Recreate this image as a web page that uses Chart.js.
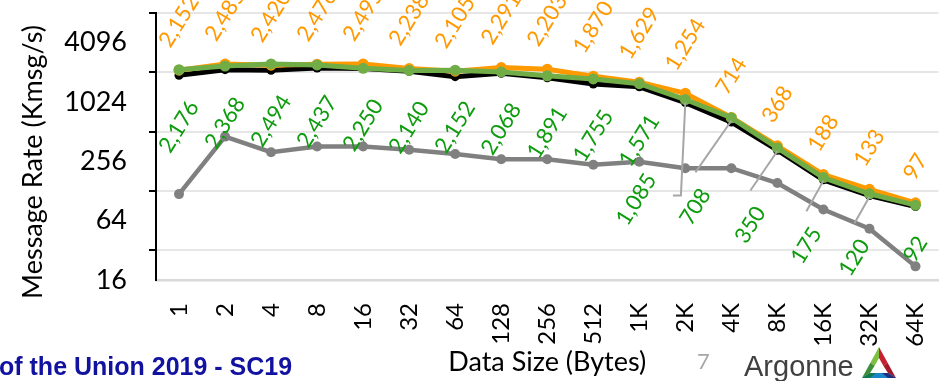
<!DOCTYPE html>
<html>
<head>
<meta charset="utf-8">
<script src="https://cdn.jsdelivr.net/npm/chart.js@4.4.1/dist/chart.umd.min.js"></script>
<style>
  html, body { margin: 0; padding: 0; background: #ffffff; }
  #wrap { position: relative; width: 944px; height: 381px; overflow: hidden; }
  #chart { position: absolute; left: 0; top: 0; }
  .foot { position: absolute; white-space: nowrap; line-height: 1; }
</style>
</head>
<body>
<div id="wrap">
  <canvas id="chart" width="944" height="381"></canvas>
  <div class="foot" style="left:-1px;top:352px;font:bold 25px 'Liberation Sans',Arial,sans-serif;color:#1212A0;">of the Union 2019 - SC19</div>
  <div class="foot" style="left:697px;top:347px;font:22px Lato,sans-serif;color:#A6A6A6;">7</div>
  <div class="foot" style="left:744px;top:350px;font:29px 'Liberation Sans',Arial,sans-serif;color:#404040;">Argonne</div>
  <svg style="position:absolute;left:0;top:0" width="944" height="381">
    <polygon points="879,347 870.5,362.5 874.5,366 879,358" fill="#7CC142"/>
    <polygon points="879,347 887.5,362.5 883.5,366 879,358" fill="#C8202F"/>
    <polygon points="887.5,362.5 896,378 888,373 883.5,366" fill="#A3192A"/>
    <polygon points="870.5,362.5 862,378 870,373 874.5,366" fill="#3F8E3A"/>
    <polygon points="862,378 896,378 888,373 870,373" fill="#1C86C8"/>
    <polygon points="862,378 870,373 876,373 870,378" fill="#127A4C"/>
    <polygon points="896,378 888,373 882,373 888,378" fill="#20307E"/>
  </svg>
</div>
<script>
// Data size per message (x categories)
const categories = ['1', '2', '4', '8', '16', '32', '64', '128', '256', '512',
                    '1K', '2K', '4K', '8K', '16K', '32K', '64K'];

// Message rates, Kmsg/s
const seriesOrange = [2152, 2485, 2420, 2476, 2495, 2238, 2105, 2291, 2203, 1870,
                      1629, 1254, 714, 368, 188, 133, 97];
const seriesGreen  = [2176, 2368, 2494, 2437, 2250, 2140, 2152, 2068, 1891, 1755,
                      1571, 1085, 708, 350, 175, 120, 92];
const seriesBlack  = [1915, 2180, 2145, 2265, 2240, 2100, 1850, 2000, 1800, 1560,
                      1460, 1010, 640, 332, 166, 115, 89];
const seriesGray   = [119, 456, 317, 362, 362, 335, 304, 269, 269, 236,
                      254, 218, 218, 154, 83, 53, 22];

// y axis: labelled values and grid-line values (log2 scale)
const yTickLabels = [16, 64, 256, 1024, 4096];
const yGridValues = [32, 128, 512, 2048, 8192];

const ORANGE = '#FF9900';
const GREEN = '#70AD47';
const GREEN_TEXT = '#0E9C0E';
const LABEL_SIZE = 22;
const LABEL_ANGLE = 58 * Math.PI / 180;

// green labels that sit away from their points, joined by leader lines
const greenLabelNudge = {
  11: { dx: -49, dy: 100, leader: 'side' },
  12: { dx: -36, dy: 89, leader: 'top' },
  13: { dx: -27, dy: 77, leader: 'top' },
  14: { dx: -17, dy: 68, leader: 'top' },
  15: { dx: -15, dy: 64, leader: 'top' }
};

function fmt(v) { return v.toLocaleString('en-US'); }

function boxOf(ctx, text) {
  const w = ctx.measureText(text).width;
  const h = LABEL_SIZE * 0.72;
  const s = Math.sin(LABEL_ANGLE), c = Math.cos(LABEL_ANGLE);
  return { bw: w * c + h * s, bh: w * s + h * c };
}

function drawRotated(ctx, text, cx, cy) {
  ctx.save();
  ctx.translate(cx, cy);
  ctx.rotate(-LABEL_ANGLE);
  ctx.textAlign = 'center';
  ctx.textBaseline = 'middle';
  ctx.fillText(text, 0, 0);
  ctx.restore();
}

const valueLabels = {
  id: 'valueLabels',
  afterDatasetsDraw(chart) {
    const ctx = chart.ctx;
    ctx.save();
    ctx.font = LABEL_SIZE + 'px Lato';

    // orange labels above their points
    const mo = chart.getDatasetMeta(1);
    ctx.fillStyle = ORANGE;
    mo.data.forEach((pt, i) => {
      const t = fmt(seriesOrange[i]);
      const b = boxOf(ctx, t);
      drawRotated(ctx, t, pt.x, pt.y - 21 - b.bh / 2);
    });

    // green labels below their points
    const mg = chart.getDatasetMeta(0);
    mg.data.forEach((pt, i) => {
      const t = fmt(seriesGreen[i]);
      const b = boxOf(ctx, t);
      let cx = pt.x, cy = pt.y + 29 + b.bh / 2;
      const n = greenLabelNudge[i];
      if (n) {
        cx = pt.x + n.dx;
        cy = pt.y + n.dy;
        ctx.strokeStyle = '#A6A6A6';
        ctx.lineWidth = 2;
        ctx.beginPath();
        ctx.moveTo(pt.x, pt.y + 3);
        if (n.leader === 'side') {
          ctx.lineTo(cx + b.bw / 2 + 23, cy - 4);
          ctx.lineTo(cx + b.bw / 2 + 15, cy - 4);
        } else {
          ctx.lineTo(cx, cy - b.bh / 2 - 14);
        }
        ctx.stroke();
      }
      ctx.fillStyle = GREEN_TEXT;
      drawRotated(ctx, t, cx, cy);
    });
    ctx.restore();
  }
};

const yTitle = {
  id: 'yTitle',
  afterDraw(chart) {
    const ctx = chart.ctx;
    ctx.save();
    ctx.translate(42, 162);
    ctx.rotate(-Math.PI / 2);
    ctx.font = '27px Lato';
    ctx.fillStyle = '#000';
    ctx.textAlign = 'center';
    ctx.textBaseline = 'alphabetic';
    ctx.fillText('Message Rate (Kmsg/s)', 0, 0);
    ctx.restore();
  }
};

function lineSet(data, color, width, radius, order) {
  return {
    data: data,
    borderColor: color,
    backgroundColor: color,
    pointBackgroundColor: color,
    pointBorderColor: color,
    borderWidth: width,
    pointRadius: radius,
    pointBorderWidth: 0,
    tension: 0,
    order: order
  };
}

new Chart(document.getElementById('chart'), {
  type: 'line',
  data: {
    labels: categories,
    datasets: [
      lineSet(seriesGreen, GREEN, 5, 5.5, 0),
      lineSet(seriesOrange, ORANGE, 5, 5.5, 1),
      lineSet(seriesBlack, '#000000', 5, 4.5, 2),
      lineSet(seriesGray, '#808080', 4.5, 5, 3)
    ]
  },
  options: {
    responsive: false,
    animation: false,
    devicePixelRatio: 1,
    layout: { padding: { top: 13, right: 3, left: 0, bottom: 0 } },
    plugins: { legend: { display: false }, tooltip: { enabled: false } },
    scales: {
      x: {
        type: 'category',
        offset: true,
        grid: { display: false },
        border: { color: '#D9D9D9', width: 2.5 },
        ticks: {
          autoSkip: false,
          minRotation: 90,
          maxRotation: 90,
          padding: 15,
          color: '#000',
          font: { family: 'Lato', size: 24 }
        },
        title: {
          display: true,
          text: 'Data Size (Bytes)',
          color: '#000',
          font: { family: 'Lato', size: 27 },
          padding: { top: 0, bottom: 3 }
        },
        afterFit(s) {
          s.height = 101;
          s.paddingLeft = 0;
          s.paddingRight = 0;
        }
      },
      y: {
        type: 'logarithmic',
        min: 16,
        max: 8192,
        afterBuildTicks(s) {
          const vals = [];
          for (let v = 16; v <= 8192; v *= 2) vals.push(v);
          s.ticks = vals.map(v => ({ value: v }));
        },
        grid: {
          color: c => (c.tick && yGridValues.includes(c.tick.value)) ? '#E6E6E6' : 'rgba(0,0,0,0)',
          tickColor: c => (c.tick && yGridValues.includes(c.tick.value)) ? '#000000' : 'rgba(0,0,0,0)',
          lineWidth: 2,
          tickWidth: 2,
          tickLength: 7
        },
        border: { color: '#000000', width: 2 },
        ticks: {
          autoSkip: false,
          padding: 22,
          color: '#000',
          font: { family: 'Lato', size: 27 },
          callback: v => yTickLabels.includes(v) ? String(v) : ''
        },
        afterFit(s) {
          s.width = 156;
          s.paddingTop = 0;
          s.paddingBottom = 0;
        }
      }
    }
  },
  plugins: [valueLabels, yTitle]
});
</script>
</body>
</html>
